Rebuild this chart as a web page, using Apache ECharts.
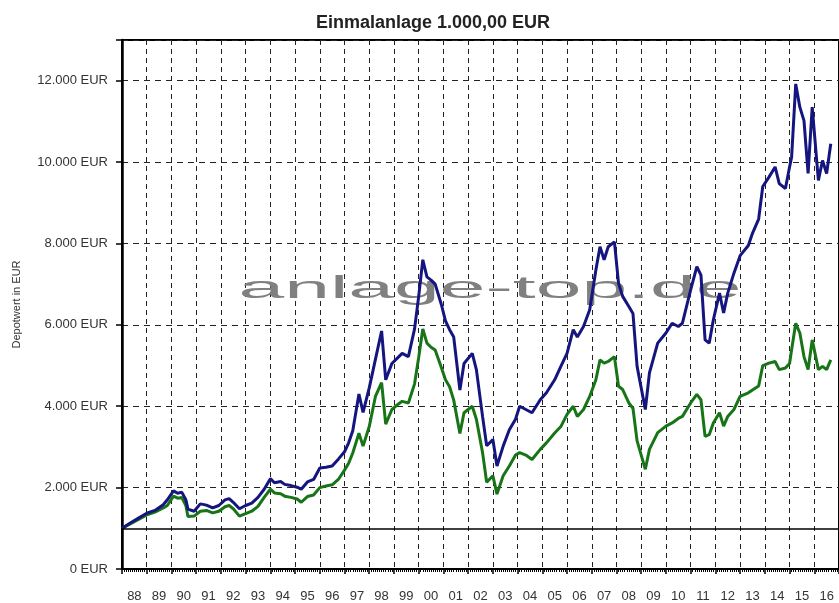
<!DOCTYPE html>
<html>
<head>
<meta charset="utf-8">
<script src="https://cdn.jsdelivr.net/npm/echarts@6/dist/echarts.min.js"></script>
<style>
  html, body { margin: 0; padding: 0; background: #fff; }
  #chart { width: 839px; height: 603px; }
</style>
</head>
<body>
<div id="chart"></div>
<script>
// Monatswerte (YYYY-MM)
var dates = [
  '1988-01','1988-05','1988-09','1989-01','1989-05','1989-09','1989-11','1990-02','1990-04','1990-06',
  '1990-08','1990-09','1990-12','1991-03','1991-06','1991-09','1991-12','1992-03','1992-05','1992-07',
  '1992-10','1993-01','1993-04','1993-07','1993-10','1994-01','1994-03','1994-06','1994-08','1994-11',
  '1995-02','1995-04','1995-07','1995-10','1996-01','1996-04','1996-07','1996-10','1997-01','1997-03',
  '1997-05','1997-08','1997-10','1998-01','1998-04','1998-07','1998-09','1998-12','1999-03','1999-05',
  '1999-08','1999-11','2000-01','2000-03','2000-05','2000-07','2000-09','2000-12','2001-02','2001-04',
  '2001-06','2001-09','2001-11','2002-03','2002-05','2002-08','2002-10','2003-01','2003-03','2003-06',
  '2003-09','2003-12','2004-02','2004-05','2004-08','2004-12','2005-03','2005-07','2005-10','2006-01',
  '2006-04','2006-06','2006-09','2006-12','2007-03','2007-05','2007-07','2007-09','2007-12','2008-02',
  '2008-04','2008-07','2008-09','2008-11','2009-03','2009-05','2009-09','2010-01','2010-04','2010-07',
  '2010-09','2011-01','2011-04','2011-06','2011-08','2011-10','2011-12','2012-03','2012-05','2012-07',
  '2012-10','2013-01','2013-05','2013-07','2013-10','2013-12','2014-03','2014-06','2014-08','2014-11',
  '2015-01','2015-02','2015-04','2015-06','2015-08','2015-10','2015-12','2016-03','2016-05','2016-07',
  '2016-09'
];
var depotBlau = [
  1000,1130,1250,1370,1440,1580,1700,1920,1860,1890,
  1700,1470,1420,1600,1570,1500,1560,1700,1730,1640,
  1480,1560,1620,1760,1960,2220,2120,2150,2080,2050,
  2010,1960,2140,2200,2480,2500,2530,2700,2880,3100,
  3400,4300,3850,4450,5150,5850,4650,5050,5200,5300,
  5220,5900,6700,7600,7180,7100,7000,6500,6100,5880,
  5700,4400,5050,5300,4900,3750,3030,3180,2530,3020,
  3420,3680,4000,3920,3840,4160,4330,4650,4980,5300,
  5880,5700,5960,6370,7350,7920,7600,7920,8040,7020,
  6700,6450,6280,4980,3920,4820,5550,5800,6040,5960,
  6040,6860,7430,7220,5630,5550,6120,6780,6290,6780,
  7270,7700,7950,8250,8600,9400,9630,9880,9470,9350,
  9880,10120,11920,11350,11020,9720,11350,9550,10040,9720,
  10450
];
var depotGruen = [
  1000,1110,1220,1330,1400,1500,1560,1790,1740,1760,
  1560,1290,1300,1420,1440,1380,1420,1530,1560,1480,
  1300,1360,1420,1540,1760,1960,1870,1850,1790,1760,
  1720,1640,1780,1820,2000,2040,2070,2200,2430,2600,
  2850,3340,3020,3500,4240,4580,3560,3920,4050,4120,
  4080,4550,5200,5900,5550,5450,5380,4950,4650,4480,
  4150,3330,3840,4000,3680,2860,2130,2290,1840,2290,
  2530,2800,2860,2800,2690,2940,3100,3340,3500,3800,
  4000,3750,3920,4240,4650,5140,5060,5100,5220,4490,
  4410,4080,3950,3150,2450,2940,3350,3510,3590,3700,
  3750,4080,4290,4160,3260,3300,3590,3840,3510,3750,
  3920,4240,4330,4400,4500,5000,5060,5100,4900,4940,
  5050,5390,6040,5800,5220,4900,5630,4900,4980,4900,
  5140
];
var jahre = ['88','89','90','91','92','93','94','95','96','97','98','99','00','01','02','03',
             '04','05','06','07','08','09','10','11','12','13','14','15','16'];
var startwert = 1000;

function toYear(s) {
  var p = s.split('-');
  return Number(p[0]) + (Number(p[1]) - 1) / 12;
}
function pairs(vals) {
  return vals.map(function (v, i) { return [toYear(dates[i]), v]; });
}
function eur(v) {
  return String(v).replace(/\B(?=(\d{3})+(?!\d))/g, '.') + ' EUR';
}

var myChart = echarts.init(document.getElementById('chart'));
var font = '"Liberation Sans", Arial, sans-serif';
var option = {
  animation: false,
  backgroundColor: '#fff',
  title: {
    text: 'Einmalanlage 1.000,00 EUR',
    left: 428,
    top: 9,
    textAlign: 'center',
    textStyle: { fontSize: 18, fontWeight: 'bold', color: '#222', fontFamily: font }
  },
  grid: {
    left: 122, top: 40, width: 725, height: 530,
    show: true, borderColor: '#000', borderWidth: 2
  },
  graphic: [{
    type: 'text',
    x: 490, y: 289,
    scaleX: 2.57,
    z: 1,
    silent: true,
    style: {
      text: 'anlage-top.de',
      font: '32px ' + font,
      fill: '#808080',
      align: 'center', verticalAlign: 'middle',
      textAlign: 'center', textVerticalAlign: 'middle'
    }
  }],
  xAxis: [{
    type: 'value',
    min: 1988, max: 2017, interval: 1,
    axisLine: { show: true, onZero: false, lineStyle: { color: '#000', width: 2 } },
    axisTick: { show: true, length: 5, lineStyle: { color: '#000', width: 1.5 } },
    minorTick: { show: true, splitNumber: 12, length: 3, lineStyle: { color: '#000', width: 1 } },
    axisLabel: { show: false },
    splitLine: { show: true, lineStyle: { color: '#222', width: 1, type: [5, 4] } }
  }, {
    type: 'category',
    data: jahre,
    boundaryGap: true,
    position: 'bottom',
    axisLine: { show: false },
    axisTick: { show: false },
    splitLine: { show: false },
    axisLabel: { margin: 21, fontSize: 13, color: '#333', fontFamily: font }
  }],
  yAxis: {
    type: 'value',
    min: 0, max: 13000, interval: 2000,
    name: 'Depotwert in EUR',
    nameLocation: 'middle',
    nameRotate: 90,
    nameGap: 100,
    nameTextStyle: { fontSize: 11, color: '#333', fontFamily: font },
    axisLine: { show: true, lineStyle: { color: '#000', width: 2.5 } },
    axisTick: { show: true, length: 6, lineStyle: { color: '#000', width: 1.5 } },
    axisLabel: {
      margin: 14, fontSize: 13, color: '#333', fontFamily: font,
      formatter: function (v) { return v % 2000 === 0 ? eur(v) : ''; }
    },
    splitLine: { show: true, lineStyle: { color: '#222', width: 1, type: [6, 5] } }
  },
  series: [{
    name: 'Depot A',
    type: 'line',
    xAxisIndex: 0,
    data: pairs(depotBlau),
    showSymbol: false,
    z: 4,
    lineStyle: { color: '#15157f', width: 3 },
    markLine: {
      silent: true,
      symbol: 'none',
      label: { show: false },
      lineStyle: { color: '#000', type: 'solid', width: 1.5 },
      data: [{ yAxis: startwert }]
    }
  }, {
    name: 'Depot B',
    type: 'line',
    xAxisIndex: 0,
    data: pairs(depotGruen),
    showSymbol: false,
    z: 3,
    lineStyle: { color: '#177517', width: 3 }
  }]
};
myChart.setOption(option);
</script>
</body>
</html>
